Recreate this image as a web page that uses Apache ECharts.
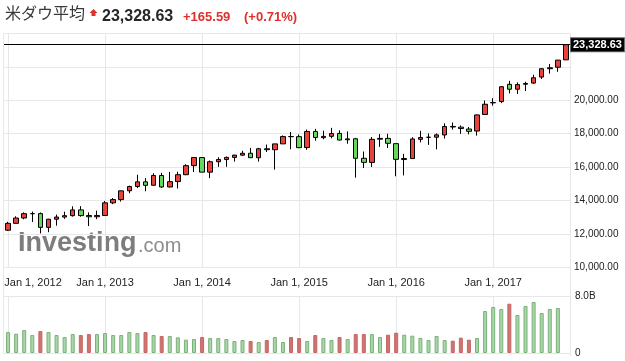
<!DOCTYPE html>
<html><head><meta charset="utf-8">
<script src="https://cdn.jsdelivr.net/npm/echarts@6/dist/echarts.min.js"></script>
<style>html,body{margin:0;padding:0;background:#fff}#c{width:625px;height:361px}</style>
</head><body><div id="c"></div>
<script>
const titleText = '米ダウ平均';
const lastPrice = 23328.63;
const changeText = '+165.59';
const changePctText = '(+0.71%)';

const months = [
 '2012-01','2012-02','2012-03','2012-04','2012-05','2012-06','2012-07','2012-08','2012-09','2012-10','2012-11','2012-12',
 '2013-01','2013-02','2013-03','2013-04','2013-05','2013-06','2013-07','2013-08','2013-09','2013-10','2013-11','2013-12',
 '2014-01','2014-02','2014-03','2014-04','2014-05','2014-06','2014-07','2014-08','2014-09','2014-10','2014-11','2014-12',
 '2015-01','2015-02','2015-03','2015-04','2015-05','2015-06','2015-07','2015-08','2015-09','2015-10','2015-11','2015-12',
 '2016-01','2016-02','2016-03','2016-04','2016-05','2016-06','2016-07','2016-08','2016-09','2016-10','2016-11','2016-12',
 '2017-01','2017-02','2017-03','2017-04','2017-05','2017-06','2017-07','2017-08','2017-09','2017-10'
];
const opens = [
 12221.19,12632.91,12952.07,13212.04,13214.16,12391.56,12879.71,13008.68,13092.15,13437.66,13099.19,13027.73,
 13104.30,13860.58,14054.49,14580.53,14839.80,15115.57,14911.60,15499.54,14810.31,15132.49,15544.92,16087.17,
 16572.17,15698.85,16321.71,16457.66,16580.84,16715.44,16828.53,16561.15,17098.13,17040.46,17391.01,17827.75,
 17823.07,17169.99,18134.05,17763.24,17841.98,18017.82,17638.12,17695.37,16528.03,16278.62,17672.50,17719.92,
 17405.48,16453.63,16513.20,17661.74,17783.78,17790.23,17924.24,18434.11,18392.46,18279.60,18158.90,19149.20,
 19848.00,19923.81,20957.29,20665.17,20962.73,21030.89,21392.30,21891.00,21981.77,22423.47
];
const highs = [
 12721.08,13055.75,13289.08,13338.66,13279.32,12898.93,13159.08,13330.76,13653.24,13661.87,13290.76,13389.70,
 13969.99,14149.15,14585.10,14887.51,15542.40,15340.09,15634.32,15658.43,15709.58,15721.00,16174.51,16588.25,
 16573.07,16398.97,16588.37,16631.63,16735.51,16978.02,17151.56,17153.80,17350.64,17395.54,17894.83,18103.45,
 17951.78,18244.38,18288.63,18175.56,18351.36,18199.92,18137.12,17750.07,16933.43,17799.96,17977.85,17996.23,
 17405.48,16795.98,17790.11,18167.63,18015.58,18016.00,18622.01,18668.44,18494.60,18399.96,19152.14,19987.63,
 20125.58,20851.33,21169.11,21070.90,21112.32,21535.03,21929.80,22179.11,22419.51,23328.63
];
const lows = [
 12184.89,12630.00,12873.00,12710.63,12035.09,12101.46,12492.25,12898.00,13035.00,13030.00,12471.49,12883.89,
 13104.14,13784.00,13937.00,14434.00,14746.00,14551.27,14900.00,14760.00,14777.00,14719.00,15519.00,15703.79,
 15698.00,15340.69,16015.00,16015.00,16334.00,16674.00,16548.00,16333.78,16901.00,15855.12,17391.00,17067.59,
 17136.00,17037.00,17579.00,17664.00,17723.00,17592.00,17399.00,15370.33,15942.00,16013.00,17210.00,17138.00,
 15450.56,15503.01,16510.00,17484.00,17331.00,17063.08,17713.00,18247.00,17992.00,17960.00,17883.56,19149.20,
 19677.94,19831.00,20412.80,20379.55,20553.00,20994.00,21279.00,21600.00,21709.00,22416.00
];
const closes = [
 12632.91,12952.07,13212.04,13213.63,12393.45,12880.09,13008.68,13090.84,13437.13,13096.46,13025.58,13104.14,
 13860.58,14054.49,14578.54,14839.80,15115.57,14909.60,15499.54,14810.31,15129.67,15545.75,16086.41,16576.66,
 15698.85,16321.71,16457.66,16580.84,16717.17,16826.60,16563.30,17098.45,17042.90,17390.52,17828.24,17823.07,
 17164.95,18132.70,17776.12,17840.52,18010.68,17619.51,17689.86,16528.03,16284.70,17663.54,17719.92,17425.03,
 16466.30,16516.50,17685.09,17773.64,17787.20,17929.99,18432.24,18400.88,18308.15,18142.42,19123.58,19762.60,
 19864.09,20812.24,20663.22,20940.51,21008.65,21349.63,21891.12,21948.10,22405.09,23328.63
];
// monthly volume, billions of shares (current month not shown)
const volumesB = [
 2.94,2.71,3.22,2.52,3.08,2.94,2.52,2.24,2.66,2.52,2.66,2.66,
 2.80,2.52,2.52,2.94,2.80,2.94,2.52,2.38,2.38,2.20,1.87,1.96,
 2.24,2.10,2.10,1.96,1.68,1.82,1.68,1.54,1.82,2.24,1.54,2.24,
 2.10,1.68,2.52,2.10,1.82,2.24,1.96,2.66,2.66,2.66,2.24,2.57,
 2.85,2.57,2.43,2.11,1.82,2.39,1.82,1.73,2.15,1.87,2.11,5.89,
 6.46,6.18,6.92,5.33,6.60,7.16,5.61,6.18,6.32,null
];
const yearTicks = ['2012-01','2013-01','2014-01','2015-01','2016-01','2017-01'];
const priceMin = 10000, priceMax = 24000, priceStep = 2000;
const volMax = 8;

const UP = '#e8423a', DOWN = '#64d85c';
const GRIDC = '#e6e6eb';
const FONT = '"Liberation Sans", Arial, sans-serif';

function fmt2(v){
  const s = v.toFixed(2); const p = s.split('.');
  return p[0].replace(/\B(?=(\d{3})+(?!\d))/g, ',') + '.' + p[1];
}
const monthNames = ['Jan','Feb','Mar','Apr','May','Jun','Jul','Aug','Sep','Oct','Nov','Dec'];

const candleData = months.map((m,i)=>[opens[i], closes[i], lows[i], highs[i]]);
const volData = volumesB.map((v,i)=>{
  if (v == null) return '-';
  const down = closes[i] < opens[i];
  return { value: v, itemStyle: { color: down ? '#cf7371' : '#aad4aa', borderColor: down ? '#c66664' : '#78b378' } };
});

const chart = echarts.init(document.getElementById('c'), null, {renderer:'canvas'});
const plotLeft = 4, plotRight = 570;
const option = {
  animation: false,
  grid: [
    { left: plotLeft, top: 33.5, width: plotRight - plotLeft, height: 233.8 },
    { left: plotLeft, top: 296, width: plotRight - plotLeft, height: 57 }
  ],
  xAxis: [
    { type: 'category', gridIndex: 0, data: months, boundaryGap: true,
      axisLine: {show:false}, axisTick: {show:false}, splitLine: {show:false},
      axisLabel: { show: true, interval: (idx)=> yearTicks.indexOf(months[idx]) >= 0, margin: 10,
        color: '#222', fontSize: 11, fontFamily: FONT,
        formatter: (val, idx)=>{
          const y = val.slice(0,4), mo = monthNames[parseInt(val.slice(5),10)-1];
          const t = mo + ' 1, ' + y;
          return idx === 0 ? '{f|' + t + '}' : t;
        },
        rich: { f: { fontSize: 11, fontFamily: FONT, color: '#222', padding: [0,0,0,50] } }
      } },
    { type: 'category', gridIndex: 1, data: months, boundaryGap: true,
      axisLine: {show:false}, axisTick: {show:false}, axisLabel: {show:false}, splitLine: {show:false} }
  ],
  yAxis: [
    { type: 'value', gridIndex: 0, position: 'right', min: priceMin, max: priceMax, interval: priceStep,
      axisLine: {show:false}, axisTick: {show:false},
      splitLine: { show: true, lineStyle: { color: GRIDC, width: 1 } },
      axisLabel: { margin: 4, color: '#222', fontSize: 10, fontFamily: FONT,
        formatter: (v)=> v >= 22000 ? '' : fmt2(v) } },
    { type: 'value', gridIndex: 1, position: 'right', min: 0, max: volMax, interval: volMax,
      axisLine: {show:false}, axisTick: {show:false},
      splitLine: { show: true, lineStyle: { color: GRIDC, width: 1 } },
      axisLabel: { margin: 5, color: '#222', fontSize: 10, fontFamily: FONT,
        formatter: (v)=> v === 0 ? '0' : v.toFixed(1) + 'B' } }
  ],
  series: [
    { type: 'candlestick', xAxisIndex: 0, yAxisIndex: 0, data: candleData, barWidth: 5, z: 3,
      itemStyle: { color: UP, color0: DOWN, borderColor: '#000', borderColor0: '#000', borderWidth: 1 },
      markLine: { silent: true, symbol: ['none','none'], z: 1, animation: false,
        data: yearTicks.map(m=>({ xAxis: m, lineStyle: { color: GRIDC, width: 1, type: 'solid' }, label: {show:false} }))
          .concat([{ yAxis: lastPrice, lineStyle: { color: '#000', width: 1, type: 'solid' },
            label: { show: true, position: 'end', distance: 1, formatter: fmt2(lastPrice),
              color: '#fff', backgroundColor: '#000', borderColor: '#666', borderWidth: 1,
              fontSize: 11, fontWeight: 'bold', fontFamily: FONT, padding: [1,2,1,2] } }])
      } },
    { type: 'bar', xAxisIndex: 1, yAxisIndex: 1, data: volData, barWidth: 4, z: 3,
      itemStyle: { borderWidth: 1 },
      markLine: { silent: true, symbol: ['none','none'], z: 1, animation: false,
        data: yearTicks.map(m=>({ xAxis: m, lineStyle: { color: GRIDC, width: 1, type: 'solid' }, label: {show:false} })) } }
  ],
  graphic: [
    { type: 'line', shape: { x1: 3.5, y1: 33.5, x2: 3.5, y2: 354 }, style: { stroke: GRIDC, lineWidth: 1 }, silent: true },
    { type: 'line', shape: { x1: 570.5, y1: 33.5, x2: 570.5, y2: 356 }, style: { stroke: GRIDC, lineWidth: 1 }, silent: true },
    { type: 'text', x: 18, y: 244, z: 0, silent: true, style: { text: 'Investing', fontSize: 27, fontWeight: 'bold', fontFamily: FONT, fill: '#7d7d7d', verticalAlign: 'middle' } },
    { type: 'text', x: 138, y: 246.5, z: 0, silent: true, style: { text: '.com', fontSize: 20, fontFamily: FONT, fill: '#8c8c8c', verticalAlign: 'middle' } },
    { type: 'text', left: 5, top: 5, style: { text: titleText, fontSize: 16, fontFamily: '"Noto Sans CJK JP", sans-serif', fill: '#3a3a3a' } },
    { type: 'polygon', shape: { points: [[93.5,9],[97.5,13],[95.5,13],[95.5,16],[91.5,16],[91.5,13],[89.5,13]] }, style: { fill: '#e0302b' } },
    { type: 'text', x: 102, y: 16.8, style: { text: fmt2(lastPrice), fontSize: 16, fontWeight: 'bold', fontFamily: FONT, fill: '#262626', verticalAlign: 'middle' } },
    { type: 'text', x: 183, y: 17.5, style: { text: changeText, fontSize: 13, fontWeight: 'bold', fontFamily: FONT, fill: '#e0302b', verticalAlign: 'middle' } },
    { type: 'text', x: 244, y: 17.5, style: { text: changePctText, fontSize: 13, fontWeight: 'bold', fontFamily: FONT, fill: '#e0302b', verticalAlign: 'middle' } }
  ]
};
chart.setOption(option);
</script></body></html>
